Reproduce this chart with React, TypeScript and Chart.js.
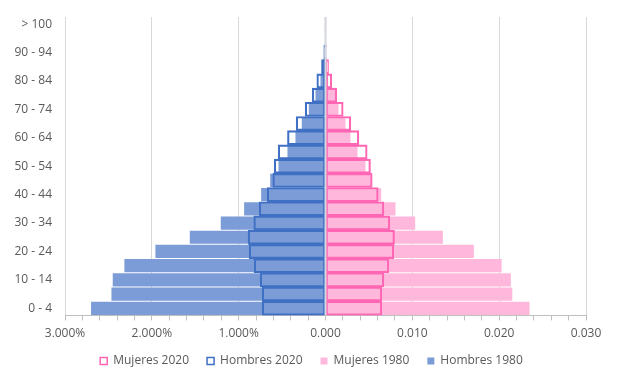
import React, { useEffect, useRef } from "react";
import { Chart, registerables } from "chart.js";

Chart.register(...registerables);

const ageGroups = [
  "0 - 4", "5 - 9", "10 - 14", "15 - 19", "20 - 24", "25 - 29", "30 - 34",
  "35 - 39", "40 - 44", "45 - 49", "50 - 54", "55 - 59", "60 - 64", "65 - 69",
  "70 - 74", "75 - 79", "80 - 84", "85 - 89", "90 - 94", "95 - 99", "> 100",
];

const mujeres2020 = [
  0.00649, 0.00649, 0.00672, 0.0073, 0.00787, 0.00795, 0.00741, 0.00672, 0.00607,
  0.00538, 0.00518, 0.0048, 0.00384, 0.00292, 0.00204, 0.0013, 0.00073, 0.00035,
  0.0001, 0.00003, 0.00001,
];
const hombres2020 = [
  0.00729, 0.00729, 0.00752, 0.00822, 0.00879, 0.00891, 0.00826, 0.00764, 0.00672,
  0.00607, 0.00591, 0.00545, 0.00438, 0.00338, 0.00234, 0.00153, 0.001, 0.00046,
  0.0002, 0.00005, 0.00002,
];
const mujeres1980 = [
  0.0235, 0.02151, 0.02135, 0.02028, 0.01709, 0.01352, 0.01033, 0.00806, 0.00641,
  0.0053, 0.00461, 0.00369, 0.00288, 0.0023, 0.0015, 0.00112, 0.0003, 0.0001,
  0.00003, 0.00001, 0,
];
const hombres1980 = [
  0.027, 0.02465, 0.0245, 0.02316, 0.01959, 0.01563, 0.01206, 0.00937, 0.00741,
  0.00637, 0.00541, 0.00438, 0.00346, 0.00273, 0.00192, 0.00115, 0.00058, 0.0003,
  0.0001, 0.00003, 0.00001,
];

const xMin = -0.03;
const xMax = 0.03;
const xStep = 0.002;

const FONT = "'Open Sans', 'DejaVu Sans', sans-serif";
const TEXT = "#595959";

const isMajor = (v: number) => Math.abs(v * 100 - Math.round(v * 100)) < 1e-6;

const formatX = (v: number) => {
  if (!isMajor(v)) return "";
  if (v < -1e-9) return (Math.abs(v) * 100).toFixed(3).replace(".", ",") + "%";
  return Math.abs(v).toFixed(3).replace(".", ",");
};

const zeroLine = {
  id: "zeroLine",
  afterDatasetsDraw(chart: any) {
    const x = chart.scales.x.getPixelForValue(0);
    const { top, bottom } = chart.chartArea;
    const ctx = chart.ctx;
    ctx.save();
    ctx.strokeStyle = "#d3d7de";
    ctx.lineWidth = 2;
    ctx.beginPath();
    ctx.moveTo(x, top);
    ctx.lineTo(x, bottom);
    ctx.stroke();
    ctx.restore();
  },
};

const LEGEND_PAD = 18;
const LEGEND_H = 14.4 + LEGEND_PAD + 10;
const CANVAS_W = 607;
const CANVAS_H = 369;
const PLOT_LEFT = 57;
const PLOT_RIGHT = 578;
const PLOT_BOTTOM = 305;

export default function App() {
  const ref = useRef<HTMLCanvasElement | null>(null);

  useEffect(() => {
    if (!ref.current) return;
    const chart = new Chart(ref.current, {
      type: "bar",
      data: {
        labels: ageGroups,
        datasets: [
          {
            label: "Mujeres 2020",
            data: mujeres2020,
            backgroundColor: "rgba(255,255,255,0)",
            borderColor: "#ff66b3",
            borderWidth: 1.5,
            borderSkipped: false,
            grouped: false,
            barPercentage: 1,
            categoryPercentage: 1,
          } as any,
          {
            label: "Hombres 2020",
            data: hombres2020.map((v) => -v),
            backgroundColor: "rgba(255,255,255,0)",
            borderColor: "#4070c4",
            borderWidth: 1.5,
            borderSkipped: false,
            grouped: false,
            barPercentage: 1,
            categoryPercentage: 1,
          } as any,
          {
            label: "Mujeres 1980",
            data: mujeres1980,
            backgroundColor: "#ffb8dc",
            borderWidth: 0,
            grouped: false,
            barPercentage: 0.93,
            categoryPercentage: 1,
          } as any,
          {
            label: "Hombres 1980",
            data: hombres1980.map((v) => -v),
            backgroundColor: "#7b9cd7",
            borderWidth: 0,
            grouped: false,
            barPercentage: 0.93,
            categoryPercentage: 1,
          } as any,
        ],
      },
      options: {
        indexAxis: "y",
        animation: false,
        responsive: true,
        maintainAspectRatio: false,
        layout: { padding: { top: 9, right: 0, bottom: 0, left: 0 } },
        plugins: {
          tooltip: { enabled: false },
          legend: {
            position: "bottom",
            labels: {
              boxWidth: 7,
              boxHeight: 7,
              padding: LEGEND_PAD,
              color: TEXT,
              font: { family: FONT, size: 12 },
            },
          },
        },
        scales: {
          x: {
            type: "linear",
            min: xMin,
            max: xMax,
            afterFit: (s: any) => {
              s.height = CANVAS_H - PLOT_BOTTOM - LEGEND_H;
              s.paddingLeft = 0;
              s.paddingRight = 0;
            },
            ticks: {
              stepSize: xStep,
              autoSkip: false,
              maxRotation: 0,
              padding: 6,
              color: TEXT,
              font: { family: FONT, size: 12 },
              callback: (v: any) => formatX(Number(v)),
            },
            grid: {
              color: (ctx: any) =>
                ctx.tick && isMajor(ctx.tick.value) ? "#d9d9d9" : "rgba(0,0,0,0)",
              tickColor: "#bfbfbf",
              tickLength: 5,
            },
            border: { display: true, color: "#bfbfbf", width: 1 },
          },
          y: {
            type: "category",
            reverse: true,
            afterFit: (s: any) => {
              s.width = PLOT_LEFT;
              s.paddingTop = 0;
              s.paddingBottom = 0;
            },
            grid: { display: false },
            border: { display: false },
            ticks: {
              autoSkip: false,
              padding: 5,
              color: TEXT,
              font: { family: FONT, size: 12 },
              callback: (v: any) => (Number(v) % 2 === 0 ? ageGroups[Number(v)] : ""),
            },
          },
          spacer: {
            type: "category",
            position: "right",
            labels: ageGroups,
            afterFit: (s: any) => {
              s.width = CANVAS_W - PLOT_RIGHT;
              s.paddingTop = 0;
              s.paddingBottom = 0;
            },
            grid: { display: false },
            border: { display: false },
            ticks: { display: false },
          },
        },
      } as any,
      plugins: [zeroLine],
    });
    return () => chart.destroy();
  }, []);

  return (
    <div style={{ position: "relative", width: CANVAS_W, height: CANVAS_H }}>
      <canvas ref={ref} />
    </div>
  );
}
